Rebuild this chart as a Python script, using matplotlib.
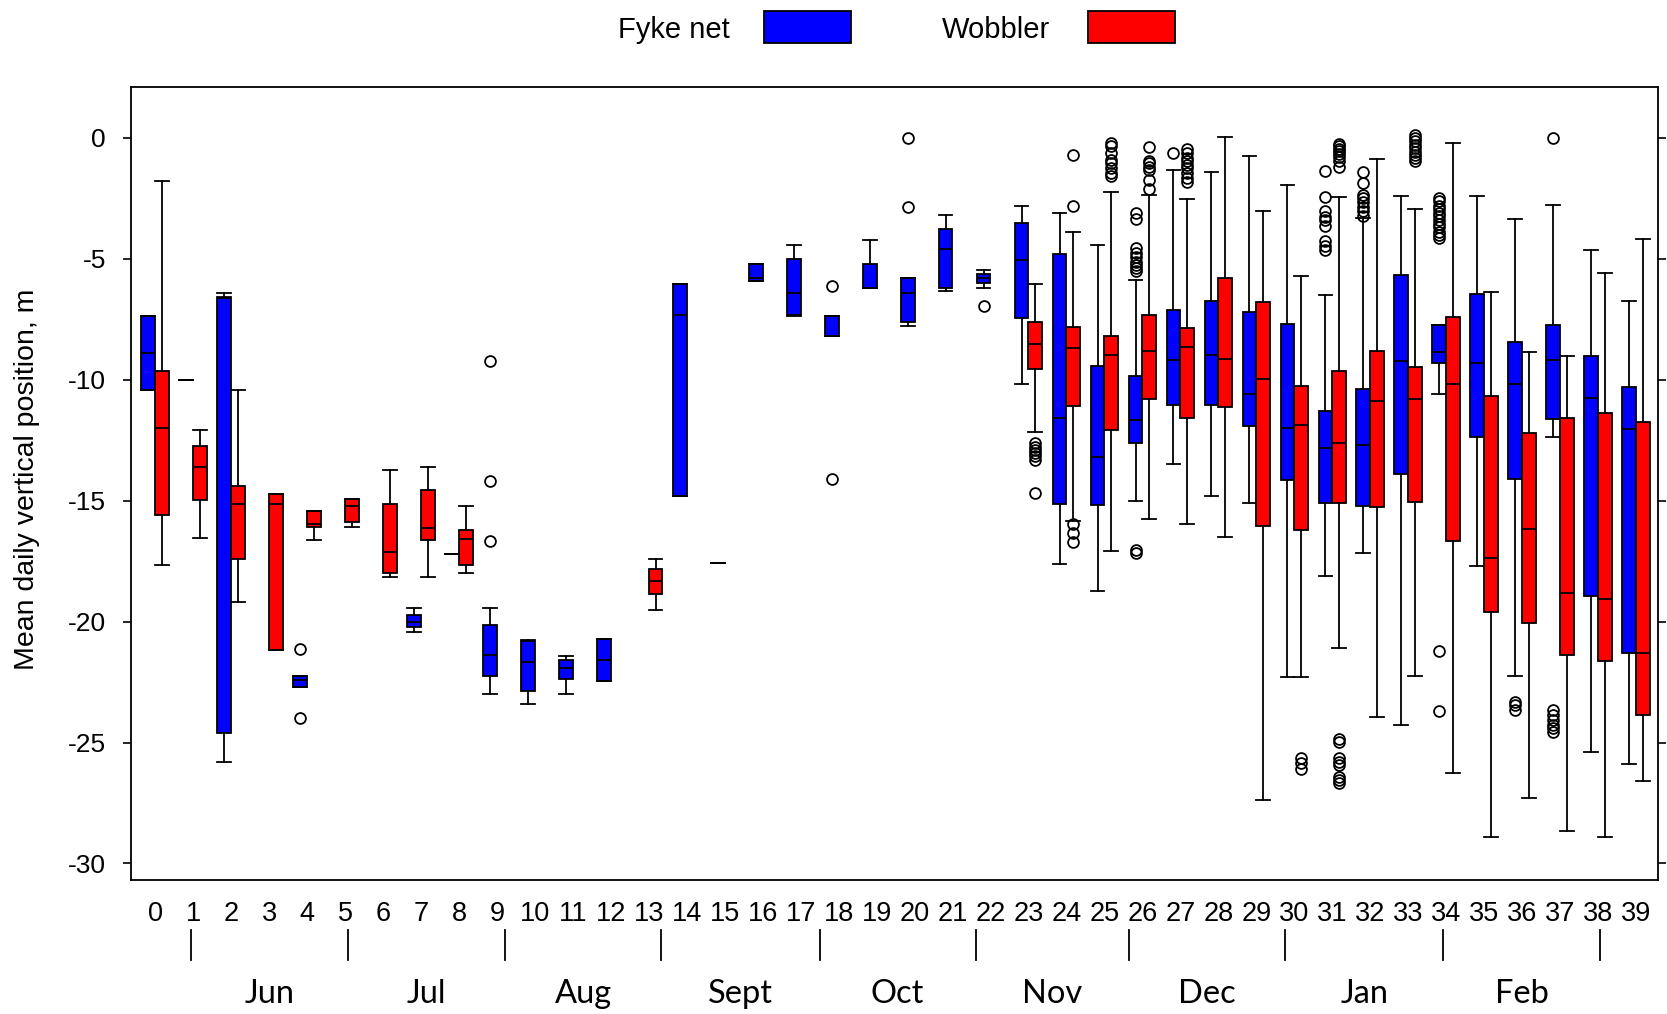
import matplotlib.pyplot as plt
import matplotlib.transforms as mtransforms
from matplotlib.patches import Rectangle

plt.rcParams["axes.unicode_minus"] = False
plt.rcParams["font.family"] = "Liberation Sans"

# Fyke net, weekly box stats (whisker high, upper quartile, median, lower quartile, whisker low)
fyke_week = [0, 1, 2, 4, 7, 8, 9, 10, 11, 12, 14, 15, 16, 17, 18, 19, 20, 21, 22, 23,
             24, 25, 26, 27, 28, 29, 30, 31, 32, 33, 34, 35, 36, 37, 38, 39]
fyke_hi = [-7.36, -10.0, -6.40, -22.24, -19.43, -17.19, -19.43, -20.75, -21.42, -20.70,
           -6.03, -17.58, -5.23, -4.44, -7.36, -4.20, -5.79, -3.20, -5.47, -2.80,
           -3.10, -4.42, -5.87, -1.32, -1.40, -0.76, -1.96, -6.49, -3.29, -2.38,
           -7.74, -2.38, -3.33, -2.76, -4.62, -6.76]
fyke_q3 = [-7.36, -10.0, -6.56, -22.24, -19.74, -17.19, -20.15, -20.79, -21.59, -20.70,
           -6.03, -17.58, -5.23, -4.99, -7.36, -5.23, -5.79, -3.77, -5.64, -3.50,
           -4.78, -9.45, -9.86, -7.13, -6.73, -7.20, -7.70, -11.28, -10.40, -5.67,
           -7.74, -6.45, -8.45, -7.74, -9.02, -10.29]
fyke_med = [-8.89, -10.0, -6.60, -22.42, -20.02, -17.19, -21.40, -21.66, -21.90, -21.59,
            -7.34, -17.58, -5.79, -6.43, -8.19, -6.19, -6.43, -4.58, -5.80, -5.06,
            -11.60, -13.20, -11.68, -9.19, -8.98, -10.57, -11.99, -12.80, -12.68, -9.24,
            -8.83, -9.31, -10.17, -9.17, -10.74, -12.05]
fyke_q1 = [-10.41, -10.0, -24.60, -22.70, -20.22, -17.19, -22.24, -22.85, -22.38, -22.46,
           -14.81, -17.58, -5.93, -7.30, -8.19, -6.19, -7.63, -6.19, -6.01, -7.45,
           -15.12, -15.17, -12.61, -11.04, -11.04, -11.92, -14.15, -15.10, -15.20, -13.88,
           -9.31, -12.36, -14.10, -11.64, -18.93, -21.31]
fyke_lo = [-10.41, -10.0, -25.82, -22.70, -20.44, -17.19, -23.01, -23.40, -23.01, -22.46,
           -14.81, -17.58, -5.93, -7.36, -8.19, -6.19, -7.78, -6.34, -6.19, -10.17,
           -17.60, -18.75, -15.00, -13.49, -14.79, -15.10, -22.27, -18.11, -17.16, -24.26,
           -10.57, -17.71, -22.26, -12.36, -25.40, -25.88]
fyke_out = {
    4: [-21.13, -23.99],
    9: [-9.24, -14.20, -16.65],
    18: [-6.14, -14.10],
    20: [0.02, -2.87],
    22: [-6.93],
    26: [-3.11, -3.34, -4.53, -4.76, -4.94, -5.11, -5.25, -5.38, -5.52, -17.04, -17.17],
    27: [-0.62],
    31: [-1.36, -2.42, -3.04, -3.25, -3.38, -3.63, -4.28, -4.46, -4.63],
    32: [-1.39, -1.87, -2.35, -2.49, -2.63, -2.86, -3.04, -3.22],
    34: [-2.49, -2.62, -2.81, -2.95, -3.12, -3.24, -3.41, -3.56, -3.70, -3.88, -4.01, -4.14,
         -21.22, -23.69],
    36: [-23.31, -23.45, -23.66],
    37: [0.02, -23.66, -23.86, -24.07, -24.28, -24.42, -24.55],
}

# Wobbler, weekly box stats
wob_week = [0, 1, 2, 3, 4, 5, 6, 7, 8, 13, 23, 24, 25, 26, 27, 28, 29, 30, 31, 32,
            33, 34, 35, 36, 37, 38, 39]
wob_hi = [-1.79, -12.09, -10.41, -14.71, -15.43, -14.95, -13.75, -13.59, -15.21, -17.43,
          -6.03, -3.88, -2.25, -2.35, -2.52, 0.05, -3.00, -5.70, -2.43, -0.87,
          -2.93, -0.19, -6.38, -8.83, -9.02, -5.57, -4.19]
wob_q3 = [-9.63, -12.72, -14.40, -14.71, -15.43, -14.95, -15.12, -14.55, -16.23, -17.84,
          -7.63, -7.80, -8.20, -7.34, -7.86, -5.78, -6.80, -10.24, -9.62, -8.81,
          -9.48, -7.40, -10.69, -12.21, -11.57, -11.36, -11.74]
wob_med = [-12.00, -13.59, -15.12, -15.12, -15.95, -15.21, -17.12, -16.14, -16.60, -18.30,
           -8.50, -8.68, -8.98, -8.79, -8.65, -9.12, -9.98, -11.85, -12.61, -10.88,
           -10.81, -10.17, -17.38, -16.19, -18.83, -19.07, -21.31]
wob_q1 = [-15.58, -14.97, -17.43, -21.18, -16.08, -15.86, -17.99, -16.64, -17.65, -18.85,
          -9.54, -11.08, -12.06, -10.78, -11.59, -11.11, -16.05, -16.22, -15.10, -15.27,
          -15.07, -16.67, -19.62, -20.05, -21.38, -21.64, -23.86]
wob_lo = [-17.65, -16.54, -19.18, -21.18, -16.64, -16.08, -18.17, -18.17, -17.99, -19.50,
          -12.16, -15.85, -17.09, -15.74, -15.98, -16.52, -27.37, -22.27, -21.08, -23.93,
          -22.26, -26.24, -28.90, -27.31, -28.67, -28.90, -26.60]
wob_out = {
    23: [-12.62, -12.76, -12.90, -13.04, -13.17, -13.31, -14.69],
    24: [-0.72, -2.80, -15.98, -16.32, -16.69],
    25: [-0.21, -0.35, -0.62, -0.90, -1.04, -1.25, -1.43, -1.59],
    26: [-0.39, -0.97, -1.04, -1.18, -1.32, -1.73, -2.10],
    27: [-0.46, -0.62, -0.81, -0.97, -1.11, -1.25, -1.45, -1.66, -1.80],
    30: [-25.66, -25.86, -26.11],
    31: [-0.23, -0.34, -0.45, -0.55, -0.67, -0.79, -0.97, -1.18,
         -24.87, -24.97, -25.66, -25.80, -25.93, -26.42, -26.55, -26.69],
    33: [0.13, 0.00, -0.14, -0.28, -0.42, -0.56, -0.70, -0.83, -0.97],
}

weeks = list(range(40))
month_edges = [0.95, 5.07, 9.21, 13.33, 17.5, 21.61, 25.64, 29.76, 33.93, 38.05]
months = ["Jun", "Jul", "Aug", "Sept", "Oct", "Nov", "Dec", "Jan", "Feb"]


def make_stats(week, hi, q3, med, q1, lo, out):
    stats = []
    for i, w in enumerate(week):
        stats.append(dict(whishi=hi[i], q3=q3[i], med=med[i], q1=q1[i],
                          whislo=lo[i], fliers=out.get(w, [])))
    return stats


def draw_boxes(ax, stats, pos, color, width=0.36):
    ax.bxp(stats, positions=pos, widths=width, capwidths=width,
           showfliers=True, patch_artist=True, manage_ticks=False,
           boxprops=dict(facecolor=color, edgecolor="black", linewidth=1.3),
           medianprops=dict(color="black", linewidth=1.3),
           whiskerprops=dict(color="black", linewidth=1.3, linestyle="-"),
           capprops=dict(color="black", linewidth=1.3),
           flierprops=dict(marker="o", markerfacecolor="none", markeredgecolor="black",
                           markersize=7.8, markeredgewidth=1.3))


fig = plt.figure(figsize=(16.67, 10.14), dpi=100)
ax = fig.add_axes([0.0785, 0.1318, 0.9163, 0.7822])

fyke_stats = make_stats(fyke_week, fyke_hi, fyke_q3, fyke_med, fyke_q1, fyke_lo, fyke_out)
wob_stats = make_stats(wob_week, wob_hi, wob_q3, wob_med, wob_q1, wob_lo, wob_out)
draw_boxes(ax, fyke_stats, [w - 0.18 for w in fyke_week], "#0000ff")
draw_boxes(ax, wob_stats, [w + 0.18 for w in wob_week], "#ff0000")

ax.set_xlim(-0.64, 39.59)
ax.set_ylim(-30.7, 2.1)

ax.set_xticks(weeks)
ax.set_xticklabels([str(w) for w in weeks])
ax.tick_params(axis="x", length=0, pad=15, labelsize=19.5)

yt = [0, -5, -10, -15, -20, -25, -30]
ax.set_yticks(yt)
ax.set_yticklabels([str(v) for v in yt])
ax.tick_params(axis="y", direction="out", length=6, width=1.2, pad=12, labelsize=19,
               right=True, labelright=False)
for s in ax.spines.values():
    s.set_linewidth(1.3)

# month separators and names under the week numbers
trans = mtransforms.blended_transform_factory(ax.transData, ax.transAxes)
for x in month_edges:
    ax.plot([x, x], [-0.063, -0.1], transform=trans, color="black", lw=1.3, clip_on=False)
for i, m in enumerate(months):
    xm = (month_edges[i] + month_edges[i + 1]) / 2
    ax.text(xm, -0.143, m, transform=trans, ha="center", va="center",
            fontsize=23.5, family="Lato")

fig.text(0.016, 0.527, "Mean daily vertical position, m", rotation=90,
         ha="center", va="center", fontsize=20.5)

# legend drawn above the plot
fig.text(0.4379, 0.9706, "Fyke net", ha="right", va="center", fontsize=21)
fig.text(0.6299, 0.9706, "Wobbler", ha="right", va="center", fontsize=21)
fig.patches.append(Rectangle((0.4583, 0.958), 0.0519, 0.0315, transform=fig.transFigure,
                             facecolor="#0000ff", edgecolor="black", linewidth=1.3))
fig.patches.append(Rectangle((0.6527, 0.958), 0.0522, 0.0315, transform=fig.transFigure,
                             facecolor="#ff0000", edgecolor="black", linewidth=1.3))

fig.savefig("out.png", dpi=100)
